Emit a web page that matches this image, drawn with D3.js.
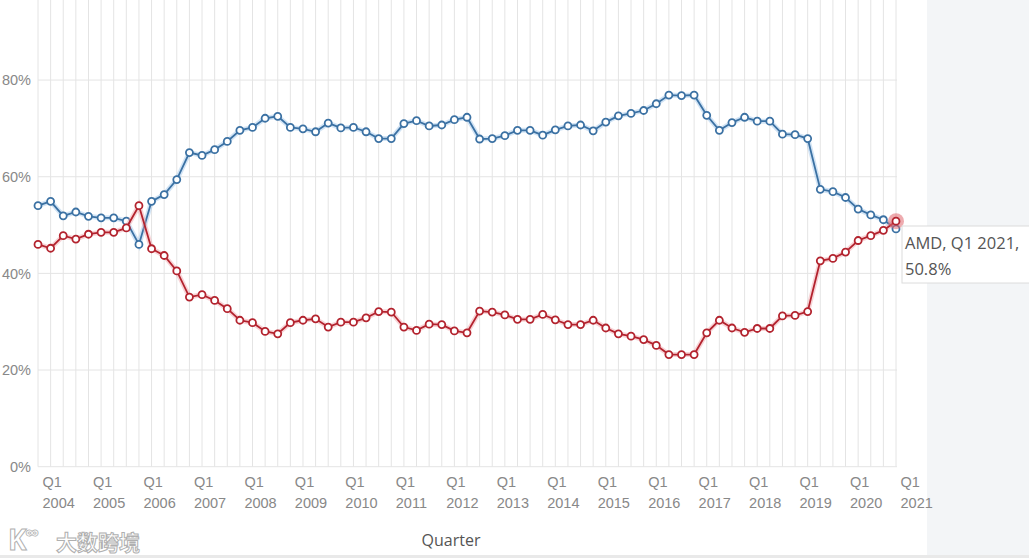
<!DOCTYPE html>
<html>
<head>
<meta charset="utf-8">
<script src="https://cdn.jsdelivr.net/npm/d3@7"></script>
<style>
  html, body { margin: 0; padding: 0; background: #fff; }
  svg { display: block; font-family: 'Open Sans', 'Noto Sans', sans-serif; }
  .grid line { stroke: #e4e4e4; stroke-width: 1; }
  .axis text { fill: #888; font-size: 14.5px; }
  .axis path { display: none; }
</style>
</head>
<body>
<div id="chart"></div>
<script>
// years covered, Q1 2004 .. Q1 2021
const years = [2004, 2005, 2006, 2007, 2008, 2009, 2010, 2011, 2012, 2013,
  2014, 2015, 2016, 2017, 2018, 2019, 2020, 2021];
const quarterNames = ['Q1', 'Q2', 'Q3', 'Q4'];

// share in %
const intelShare = [
  54.0, 54.9, 51.9, 52.7, 51.8, 51.5, 51.5, 50.8, 46.0, 54.9, 56.3, 59.4,
  65.0, 64.4, 65.6, 67.3, 69.6, 70.2, 72.1, 72.5, 70.2, 69.9, 69.3, 71.1,
  70.1, 70.2, 69.3, 67.9, 67.9, 71.0, 71.6, 70.5, 70.7, 71.8, 72.3, 67.8,
  67.9, 68.5, 69.6, 69.6, 68.6, 69.7, 70.5, 70.7, 69.5, 71.3, 72.6, 73.1,
  73.7, 75.1, 76.9, 76.8, 76.9, 72.7, 69.6, 71.2, 72.3, 71.5, 71.5, 68.8,
  68.7, 67.9, 57.4, 56.9, 55.7, 53.3, 52.1, 51.1, 49.2
];
const amdShare = [
  46.0, 45.2, 47.8, 47.1, 48.1, 48.5, 48.5, 49.4, 54.0, 45.1, 43.7, 40.5,
  35.1, 35.6, 34.4, 32.7, 30.3, 29.8, 28.0, 27.5, 29.8, 30.3, 30.6, 28.9,
  29.9, 29.9, 30.8, 32.1, 32.0, 28.9, 28.2, 29.5, 29.4, 28.1, 27.7, 32.2,
  32.0, 31.4, 30.5, 30.5, 31.5, 30.4, 29.4, 29.4, 30.3, 28.7, 27.5, 27.0,
  26.3, 25.1, 23.2, 23.2, 23.2, 27.7, 30.3, 28.7, 27.8, 28.6, 28.6, 31.2,
  31.3, 32.1, 42.6, 43.1, 44.4, 46.8, 47.8, 48.9, 50.8
];
const yTicks = [0, 20, 40, 60, 80];
const tooltipLines = ['AMD, Q1 2021,', '50.8%'];
const axisTitle = 'Quarter';
const watermark = '大数跨境';

const quarters = [];
years.forEach((yr) => quarterNames.forEach((q) => {
  if (quarters.length < intelShare.length) quarters.push(q + ' ' + yr);
}));

const width = 1029;
const height = 558;
const plot = { left: 38, right: 896, top: 0, bottom: 466.7 };

const svg = d3.select('#chart').append('svg')
  .attr('width', width).attr('height', height);

// grey side panel and bottom strip
svg.append('rect').attr('x', 927).attr('y', 0).attr('width', width - 927).attr('height', 555)
  .attr('fill', '#f3f5f7');
svg.append('rect').attr('x', 0).attr('y', 555).attr('width', width).attr('height', 3)
  .attr('fill', '#e9e9e9');

const x = d3.scalePoint().domain(quarters).range([plot.left, plot.right]);
const y = d3.scaleLinear().domain([0, 100]).range([plot.bottom, plot.bottom - 483.3]);

// --- grid ---
const grid = svg.append('g').attr('class', 'grid');
grid.selectAll('line.v').data(quarters).join('line').attr('class', 'v')
  .attr('x1', (d) => x(d)).attr('x2', (d) => x(d))
  .attr('y1', plot.top).attr('y2', plot.bottom);
grid.selectAll('line.h').data(yTicks).join('line').attr('class', 'h')
  .attr('x1', plot.left).attr('x2', plot.right + 1)
  .attr('y1', (d) => y(d)).attr('y2', (d) => y(d));

// --- axes ---
svg.append('g').attr('class', 'axis')
  .attr('transform', `translate(${plot.left},0)`)
  .call(d3.axisLeft(y).tickValues(yTicks).tickSize(0).tickPadding(7).tickFormat((d) => d + '%'));

const q1Ticks = quarters.filter((q) => q.startsWith('Q1'));
const xAxis = svg.append('g').attr('class', 'axis')
  .attr('transform', `translate(0,${plot.bottom})`)
  .call(d3.axisBottom(x).tickValues(q1Ticks).tickSize(0).tickFormat(''));
xAxis.selectAll('.tick text').remove();
xAxis.selectAll('.tick').append('text')
  .attr('text-anchor', 'start')
  .each(function (d) {
    const parts = d.split(' ');
    const t = d3.select(this);
    t.append('tspan').attr('x', 4).attr('y', 20).text(parts[0]);
    t.append('tspan').attr('x', 4).attr('y', 41).text(parts[1]);
  });

svg.append('text')
  .attr('x', 451).attr('y', 546)
  .attr('text-anchor', 'middle')
  .attr('fill', '#555').attr('font-size', 16)
  .text(axisTitle);

// --- series ---
const series = [
  { name: 'Intel', values: intelShare, color: '#3b71a3', glow: '#9cc4e8' },
  { name: 'AMD', values: amdShare, color: '#b3232e', glow: '#f0a0a6' }
];

const line = d3.line().x((d, i) => x(quarters[i])).y((d) => y(d));

series.forEach((s) => {
  const g = svg.append('g');
  g.append('path').datum(s.values).attr('d', line)
    .attr('fill', 'none').attr('stroke', s.glow).attr('stroke-width', 5).attr('opacity', 0.45);
  g.append('path').datum(s.values).attr('d', line)
    .attr('fill', 'none').attr('stroke', s.color).attr('stroke-width', 1.8);
  if (s.name === 'AMD') {
    const last = s.values.length - 1;
    g.append('circle')
      .attr('cx', x(quarters[last])).attr('cy', y(s.values[last])).attr('r', 8)
      .attr('fill', '#e0666e').attr('opacity', 0.55);
  }
  g.selectAll('circle.pt').data(s.values).join('circle').attr('class', 'pt')
    .attr('cx', (d, i) => x(quarters[i])).attr('cy', (d) => y(d)).attr('r', 3.5)
    .attr('fill', '#fff').attr('stroke', s.color).attr('stroke-width', 1.8);
});

// --- tooltip ---
const tip = svg.append('g').attr('transform', 'translate(902,226)');
tip.append('rect').attr('width', 140).attr('height', 57)
  .attr('fill', '#fff').attr('stroke', '#dcdcdc');
tip.selectAll('text').data(tooltipLines).join('text')
  .attr('x', 3).attr('y', (d, i) => 23 + i * 26)
  .attr('fill', '#555').attr('font-size', 16.5)
  .text((d) => d);

// --- watermark ---
const wm = svg.append('g').attr('transform', 'translate(8,528)');
wm.append('text').attr('x', 0).attr('y', 22)
  .attr('font-size', 28).attr('font-weight', 'bold')
  .attr('fill', '#fff').attr('stroke', '#b0b0b0').attr('stroke-width', 1)
  .text('K');
wm.append('text').attr('x', 17).attr('y', 12)
  .attr('font-size', 20).attr('font-weight', 'bold')
  .attr('fill', '#fff').attr('stroke', '#b0b0b0').attr('stroke-width', 0.8)
  .text('∞');
wm.append('text').attr('x', 48).attr('y', 22)
  .attr('font-family', 'Noto Sans CJK SC').attr('font-size', 21).attr('font-weight', 'bold')
  .attr('fill', '#fff').attr('stroke', '#b0b0b0').attr('stroke-width', 1)
  .text(watermark);
</script>
</body>
</html>
